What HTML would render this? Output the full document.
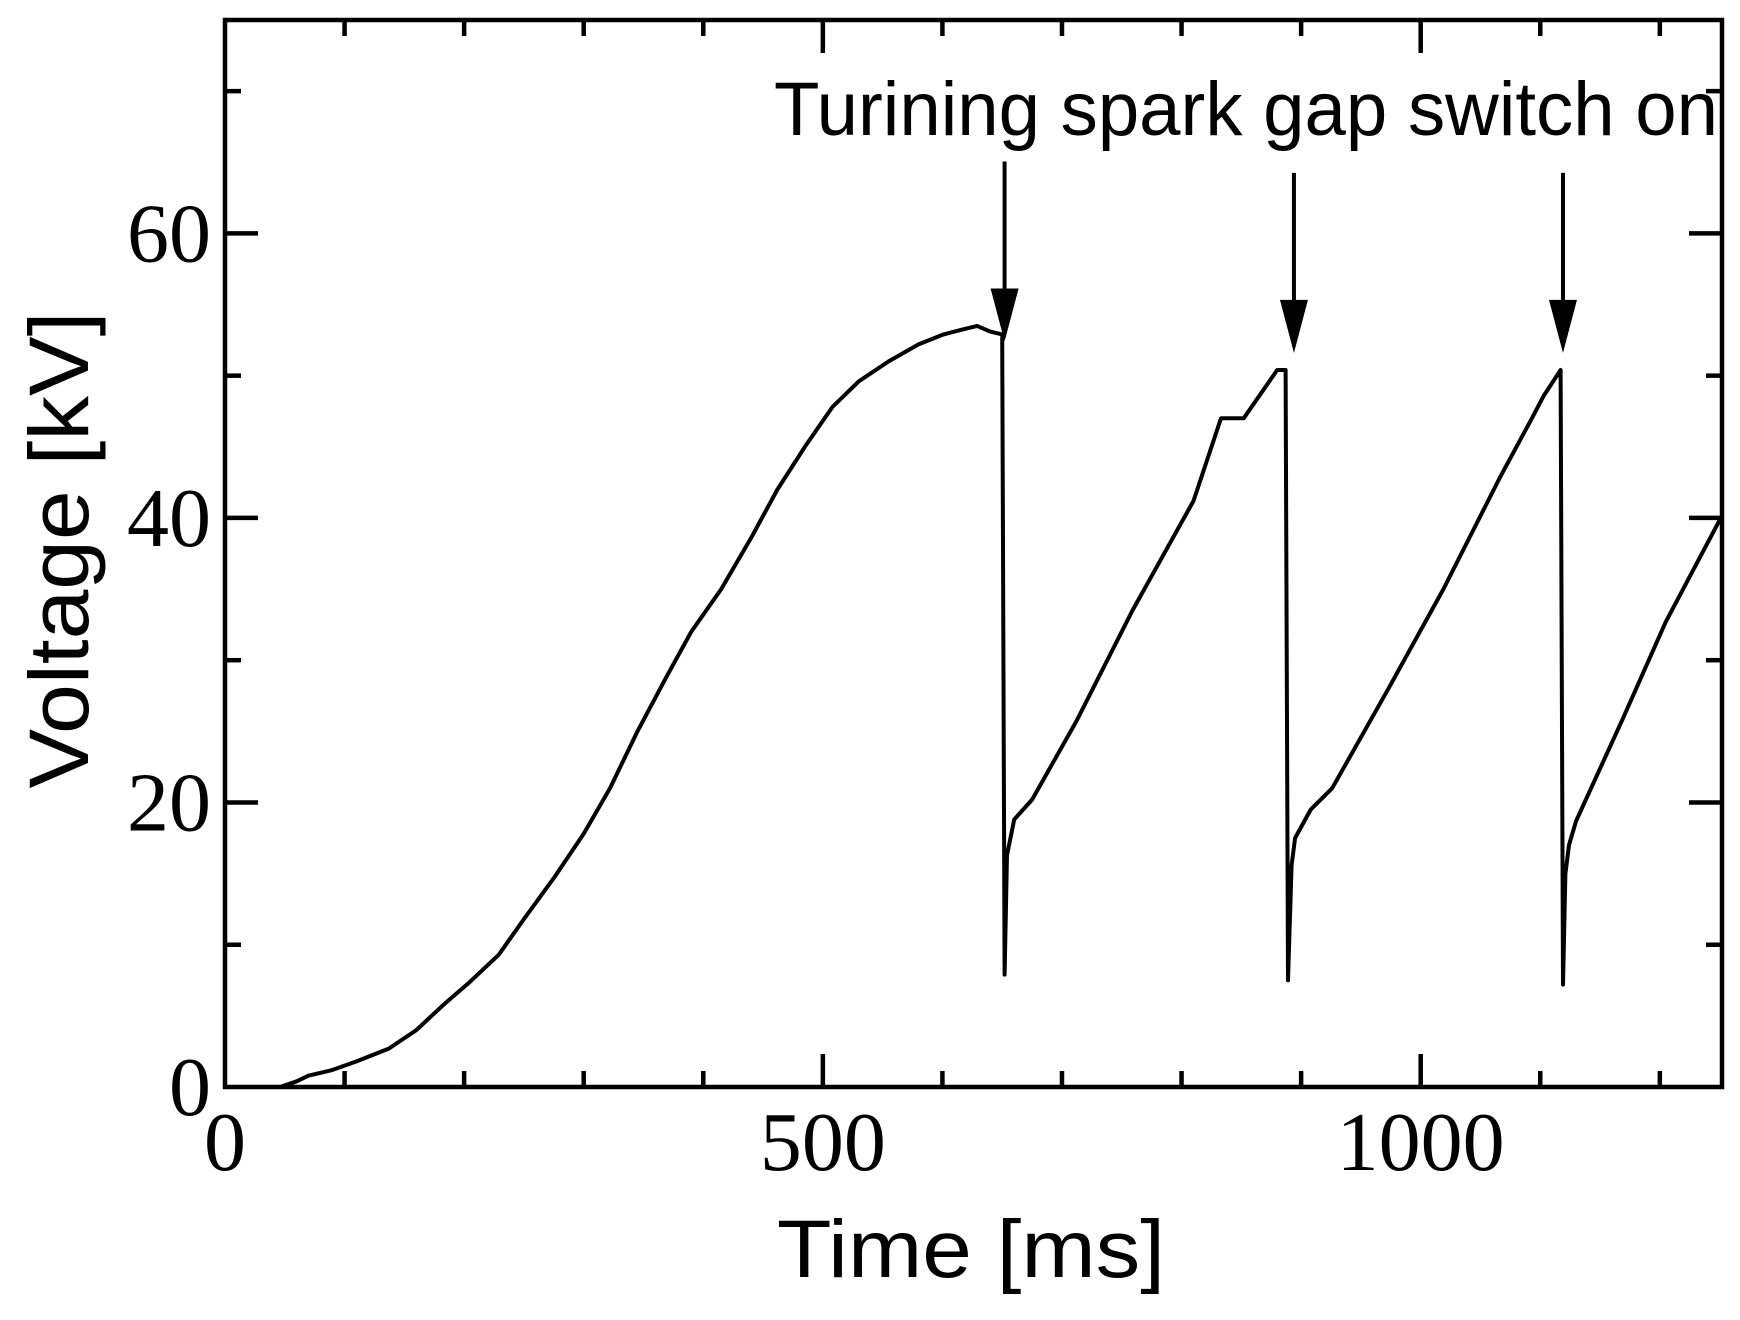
<!DOCTYPE html>
<html><head><meta charset="utf-8"><style>
html,body{margin:0;padding:0;background:#fff;}
svg{display:block;}
</style></head><body>
<svg id="chart" width="1740" height="1320" viewBox="0 0 1740 1320" xmlns="http://www.w3.org/2000/svg">
<g id="axes"></g>
<g id="series"></g>
<g id="notes"></g>
</svg>
<script>
const timeMs = [46,60,70,80,90,110,137,160,183,205,229,250,276,300,322,345,369,390,415,440,462,485,508,530,555,580,601,615,629,640,650,652,654,660,675,712,759,810,833,852,880,887,889,892,895,908,926,973,1019,1066,1093,1103,1117,1119,1121,1124,1130,1168,1205,1251];
const voltageKV = [0,0.4,0.8,1.0,1.2,1.8,2.7,4.0,5.8,7.4,9.3,11.8,14.8,17.8,21,25,28.8,32,35,38.6,42,45,47.8,49.6,51,52.2,52.9,53.2,53.5,53.1,52.9,7.9,16.3,18.8,20.2,25.7,33.5,41.2,47,47,50.4,50.4,7.5,15.6,17.5,19.5,21,28,35,42.8,47,48.6,50.4,7.2,15,17,18.7,25.7,32.7,40];
const switchTimes = [652,894,1119];
const switchTipKV = [52.4,51.6,51.6];
const xTicksMajor = [0,500,1000];
const xTickLabels = ["0","500","1000"];
const yTicksMajor = [0,20,40,60];
const yTickLabels = ["0","20","40","60"];

const L=225,R=1722,T=20,B=1087,XMAX=1252,YMAX=75;
const sx=v=>L+(R-L)*v/XMAX;
const sy=v=>B-(B-T)*v/YMAX;
const NS="http://www.w3.org/2000/svg";
function mk(tag,attrs,parent){const e=document.createElementNS(NS,tag);for(const k in attrs)e.setAttribute(k,attrs[k]);parent.appendChild(e);return e;}
const axes=document.getElementById('axes');
const series=document.getElementById('series');
const notes=document.getElementById('notes');

const frame=mk('rect',{x:L,y:T,width:R-L,height:B-T,fill:'none',stroke:'#000','stroke-width':4.5},axes);



for(let v=100;v<XMAX;v+=100){
  const major=v%500===0;const len=major?33:16;
  const t1=mk('line',{x1:sx(v),x2:sx(v),y1:B,y2:B-len,stroke:'#000','stroke-width':4.5},axes);
  
  
  const t2=mk('line',{x1:sx(v),x2:sx(v),y1:T,y2:T+len,stroke:'#000','stroke-width':4.5},axes);
  
  
}
for(let v=10;v<YMAX;v+=10){
  const major=v%20===0;const len=major?33:16;
  const t1=mk('line',{x1:L,x2:L+len,y1:sy(v),y2:sy(v),stroke:'#000','stroke-width':4.5},axes);
  
  
  const t2=mk('line',{x1:R,x2:R-len,y1:sy(v),y2:sy(v),stroke:'#000','stroke-width':4.5},axes);
  
  
}
xTicksMajor.forEach((v,i)=>{
  const s=xTickLabels[i];
  const t=mk('text',{x:sx(v),y:1170,'text-anchor':'middle','font-family':'Liberation Serif, serif','font-size':84,textLength:s.length*42,lengthAdjust:'spacingAndGlyphs'},axes);
  t.textContent=s;
  
  
});
yTicksMajor.forEach((v,i)=>{
  const s=yTickLabels[i];
  const t=mk('text',{x:211,y:sy(v)+28,'text-anchor':'end','font-family':'Liberation Serif, serif','font-size':84,textLength:s.length*42,lengthAdjust:'spacingAndGlyphs'},axes);
  t.textContent=s;
  
  
});
const xt=mk('text',{x:971,y:1277,'text-anchor':'middle','font-family':'Liberation Sans, sans-serif','font-size':82,textLength:388,lengthAdjust:'spacingAndGlyphs'},axes);
xt.textContent='Time [ms]';


const yt=mk('text',{x:0,y:0,'text-anchor':'middle','font-family':'Liberation Sans, sans-serif','font-size':84,textLength:477,lengthAdjust:'spacingAndGlyphs',transform:'translate(88,550) rotate(-90)'},axes);
yt.textContent='Voltage [kV]';



const d=timeMs.map((t,i)=>(i?'L':'M')+sx(t).toFixed(1)+','+sy(voltageKV[i]).toFixed(1)).join(' ');
const line=mk('path',{d:d,fill:'none',stroke:'#000','stroke-width':4,'stroke-linejoin':'round'},series);



switchTimes.forEach((t,i)=>{
  const x=sx(t),tip=sy(switchTipKV[i]);
  const ln=mk('line',{x1:x,x2:x,y1:tip-180,y2:tip-40,stroke:'#000','stroke-width':4},notes);
  
  
  const hd=mk('polygon',{points:`${x-14},${tip-53} ${x+14},${tip-53} ${x},${tip}`,fill:'#000'},notes);
  
  
});
const an=mk('text',{x:774,y:135,'font-family':'Liberation Sans, sans-serif','font-size':76,textLength:944,lengthAdjust:'spacingAndGlyphs'},notes);
an.textContent='Turining spark gap switch on';


</script>
</body></html>
